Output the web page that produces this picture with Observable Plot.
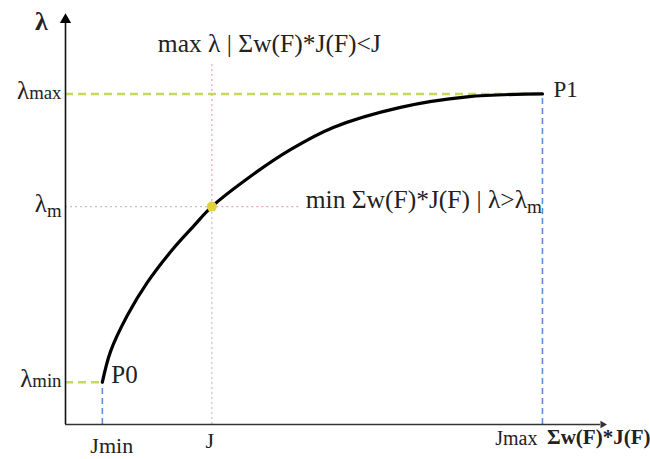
<!DOCTYPE html>
<html><head><meta charset="utf-8">
<script src="https://cdn.jsdelivr.net/npm/d3@7"></script>
<script src="https://cdn.jsdelivr.net/npm/@observablehq/plot@0.6"></script>
<style>body{margin:0;background:#fff}</style>
</head><body><div id="chart"></div>
<script>
// ---- data ----
const xTickLabels = ["Jmin", "J", "Jmax"];
const xTickValues = [6.8, 27.0, 88.0];
const yTickLabels = ["λ_min", "λ__m", "λ_max"];
const yTickValues = [10.1, 52.0, 78.9];
const curveJ = [6.8, 8.3, 11.4, 15.1, 19.9, 23.6, 27.0, 34.1, 41.5, 49.4, 61.8, 74.1, 88.0];
const curveLambda = [10.1, 17.4, 26.0, 33.9, 42.0, 47.3, 52.0, 59.2, 65.6, 70.9, 75.7, 78.2, 78.9];
const pointNames = ["P0", "P1"];
const xTitle = "Σw(F)*J(F)";
const yTitle = "λ";
const noteTop = "max λ | Σw(F)*J(F)<J";
const noteRight = "min Σw(F)*J(F) | λ>λ__m";

// ---- derived ----
const [Jmin, J, Jmax] = xTickValues;
const [Lmin, Lm, Lmax] = yTickValues;
const curve = curveJ.map((x, i) => ({x, y: curveLambda[i]}));
const guideTop = 86.4, guideRight = 43.4, yAxisTop = 95.9, xAxisEnd = 98.7;

const green = {stroke: "#c8d85a", strokeWidth: 2.5, strokeDasharray: "8,5"};
const blue = {stroke: "#5b8edb", strokeWidth: 1.6, strokeDasharray: "6,4"};
const pink = {stroke: "#eba3b3", strokeWidth: 1.2, strokeDasharray: "2,3"};
const gray = {stroke: "#c4c4cc", strokeWidth: 1.2, strokeDasharray: "2,3"};
const font = {fontFamily: "Liberation Serif", fill: "#222"};

const chart = Plot.plot({
  width: 650, height: 459,
  marginLeft: 65, marginRight: 43, marginTop: 5, marginBottom: 35,
  x: {domain: [0, 100], axis: null},
  y: {domain: [0, 100], axis: null},
  style: {fontFamily: "Liberation Serif", background: "white"},
  marks: [
    Plot.ruleY([Lmax], {x1: 0, x2: Jmax, ...green}),
    Plot.ruleY([Lmin], {x1: 0, x2: Jmin, ...green}),
    Plot.ruleX([Jmin], {y1: 0, y2: Lmin, ...blue}),
    Plot.ruleX([Jmax], {y1: 0, y2: Lmax, ...blue}),
    Plot.ruleX([J], {y1: Lm, y2: guideTop, ...pink}),
    Plot.ruleX([J], {y1: 0, y2: Lm, ...gray}),
    Plot.ruleY([Lm], {x1: 0, x2: J, ...gray}),
    Plot.ruleY([Lm], {x1: J, x2: guideRight, ...pink}),
    Plot.ruleX([0], {y1: 0, y2: yAxisTop, stroke: "#111", strokeWidth: 1.6}),
    Plot.ruleY([0], {x1: 0, x2: xAxisEnd, stroke: "#333", strokeWidth: 1.6}),
    Plot.dot([0], {x: 0, y: 96.6, symbol: "triangle", r: 4.2, fill: "#000", stroke: null}),
    Plot.dot([0], {x: 99.1, y: 0, symbol: "triangle", r: 2.8, rotate: 90, fill: "#333", stroke: null}),
    Plot.line(curve, {x: "x", y: "y", curve: "catmull-rom", stroke: "#000", strokeWidth: 3.2}),
    Plot.dot([{x: J, y: Lm}], {x: "x", y: "y", r: 5, fill: "#e2d33a", stroke: null}),
    // y tick labels
    Plot.text(yTickLabels, {x: 0, y: (d, i) => yTickValues[i], text: d => d, textAnchor: "end", dx: -4, dy: -3, fontSize: 25, ...font}),
    // x tick labels
    Plot.text([xTickLabels[0]], {x: Jmin, y: 0, text: d => d, textAnchor: "start", dx: -12, dy: 21, fontSize: 22, ...font}),
    Plot.text([xTickLabels[1]], {x: J, y: 0, text: d => d, textAnchor: "middle", dx: -2, dy: 16, fontSize: 22, ...font}),
    Plot.text([xTickLabels[2]], {x: Jmax, y: 0, text: d => d, textAnchor: "end", dx: -5, dy: 14, fontSize: 20, ...font}),
    // axis titles
    Plot.text([xTitle], {x: 100, y: 0, text: d => d, textAnchor: "end", dx: 43, dy: 13, fontSize: 21, fontWeight: "bold", ...font}),
    Plot.text([yTitle], {x: 0, y: 100, text: d => d, textAnchor: "middle", dx: -24, dy: 16, fontSize: 26, fontWeight: "bold", ...font}),
    // point labels
    Plot.text([pointNames[0]], {x: Jmin, y: Lmin, text: d => d, textAnchor: "start", dx: 9, dy: -7, fontSize: 25, ...font}),
    Plot.text([pointNames[1]], {x: Jmax, y: Lmax, text: d => d, textAnchor: "start", dx: 11, dy: -4, fontSize: 23, ...font}),
    // annotations
    Plot.text([noteTop], {x: J, y: guideTop, text: d => d, textAnchor: "start", dx: -54, dy: -19, fontSize: 25.5, ...font}),
    Plot.text([noteRight], {x: guideRight, y: Lm, text: d => d, textAnchor: "start", dx: 5, dy: -7, fontSize: 25.5, ...font})
  ]
});

// subscripts: "_" smaller suffix, "__" smaller lowered suffix
const ns = "http://www.w3.org/2000/svg";
chart.querySelectorAll("text").forEach(el => {
  const t = el.textContent;
  const m = t.match(/^(.*?)(__?)(.*)$/);
  if (!m) return;
  while (el.firstChild) el.removeChild(el.firstChild);
  const a = document.createElementNS(ns, "tspan"); a.textContent = m[1]; el.appendChild(a);
  const b = document.createElementNS(ns, "tspan"); b.textContent = m[3];
  b.setAttribute("font-size", "0.75em");
  if (m[2] === "__") b.setAttribute("dy", "0.28em");
  el.appendChild(b);
});
document.getElementById("chart").appendChild(chart);
</script>
</body></html>
